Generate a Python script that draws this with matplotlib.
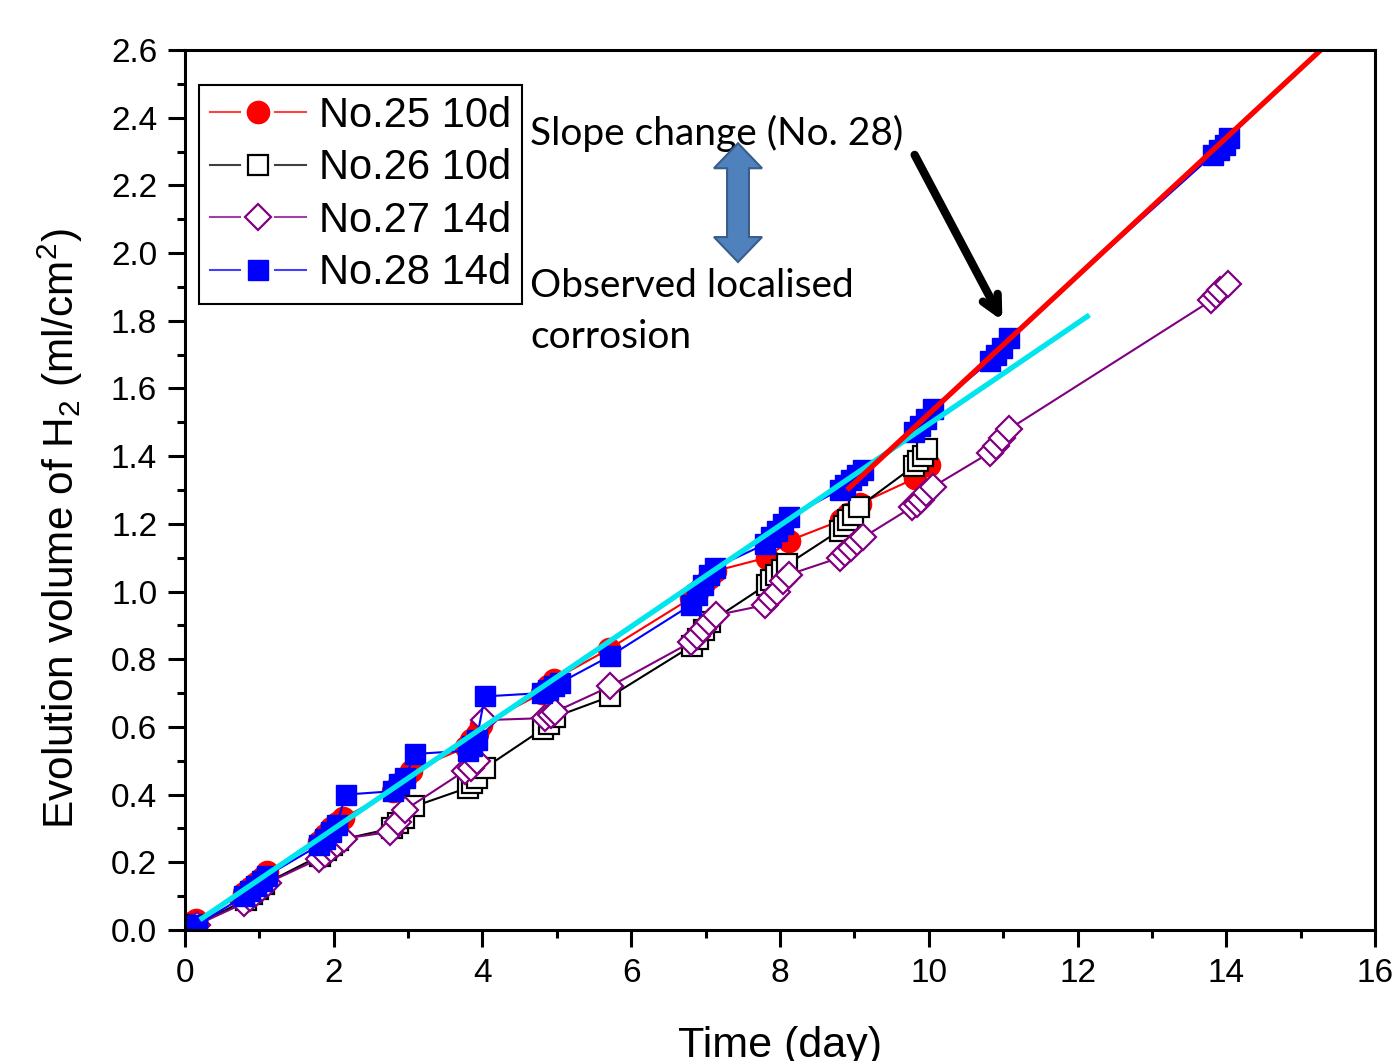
import matplotlib
matplotlib.use("Agg")
import matplotlib.pyplot as plt
from matplotlib.lines import Line2D
from matplotlib.legend_handler import HandlerBase
from matplotlib.patches import Polygon
from matplotlib.ticker import MultipleLocator

plt.rcParams["font.family"] = ["Liberation Sans", "DejaVu Sans"]
plt.rcParams["mathtext.fontset"] = "custom"
plt.rcParams["mathtext.rm"] = "Liberation Sans"

# --- data (time in days, volume in ml/cm2) ---
t25 = [0.08, 0.15,
       0.80, 0.88, 0.96, 1.04, 1.10,
       1.80, 1.88, 1.96, 2.04, 2.12,
       2.80, 2.88, 2.96, 3.04,
       3.78, 3.85, 3.92, 3.98,
       4.80, 4.88, 4.96,
       5.70,
       6.80, 6.88, 6.96, 7.04, 7.12,
       7.82, 8.12,
       8.82, 8.92, 9.08,
       9.82, 10.00]
v25 = [0.02, 0.03,
       0.11, 0.125, 0.14, 0.155, 0.17,
       0.26, 0.28, 0.30, 0.315, 0.33,
       0.41, 0.43, 0.45, 0.47,
       0.54, 0.56, 0.58, 0.605,
       0.70, 0.72, 0.74,
       0.83,
       0.98, 1.00, 1.02, 1.04, 1.06,
       1.10, 1.15,
       1.21, 1.23, 1.26,
       1.335, 1.375]

t26 = [0.10, 0.16,
       0.82, 0.90, 0.98, 1.06,
       1.82, 1.90, 1.98, 2.06,
       2.78, 2.86, 2.94, 3.08,
       3.80, 3.86, 3.93, 4.04,
       4.82, 4.90, 4.98,
       5.72,
       6.82, 6.90, 6.98, 7.06,
       7.82, 7.88, 7.94, 8.02, 8.10,
       8.80, 8.86, 8.92, 8.98, 9.06,
       9.80, 9.86, 9.92, 9.98]
v26 = [0.01, 0.015,
       0.09, 0.105, 0.12, 0.135,
       0.22, 0.235, 0.25, 0.265,
       0.30, 0.315, 0.33, 0.365,
       0.42, 0.435, 0.45, 0.48,
       0.595, 0.61, 0.63,
       0.69,
       0.84, 0.86, 0.885, 0.91,
       1.02, 1.035, 1.05, 1.065, 1.08,
       1.18, 1.195, 1.21, 1.225, 1.25,
       1.37, 1.385, 1.40, 1.42]

t27 = [0.10, 0.16,
       0.80, 0.88, 0.96, 1.04, 1.12,
       1.80, 1.88, 1.96, 2.04, 2.14,
       2.76, 2.86, 2.96,
       3.76, 3.84, 3.92, 4.02,
       4.84, 4.92, 4.98,
       5.72,
       6.80, 6.88, 6.96, 7.04, 7.14,
       7.80, 7.88, 7.96, 8.04, 8.12,
       8.80, 8.88, 8.96, 9.04, 9.12,
       9.78, 9.84, 9.90, 9.96, 10.06,
       10.82, 10.90, 10.98, 11.08,
       13.80, 13.86, 13.92, 14.02]
v27 = [0.01, 0.015,
       0.08, 0.095, 0.11, 0.125, 0.14,
       0.21, 0.225, 0.24, 0.255, 0.27,
       0.29, 0.32, 0.355,
       0.47, 0.48, 0.50, 0.62,
       0.626, 0.636, 0.645,
       0.72,
       0.85, 0.87, 0.89, 0.91, 0.93,
       0.96, 0.98, 1.00, 1.03, 1.05,
       1.10, 1.115, 1.13, 1.145, 1.16,
       1.25, 1.26, 1.27, 1.29, 1.31,
       1.41, 1.43, 1.455, 1.48,
       1.86, 1.875, 1.89, 1.91]

t28 = [0.10, 0.16,
       0.80, 0.88, 0.96, 1.04, 1.10,
       1.80, 1.88, 1.96, 2.04, 2.16,
       2.80, 2.88, 2.96, 3.09,
       3.80, 3.86, 3.92, 4.03,
       4.80, 4.88, 4.96, 5.04,
       5.72,
       6.80, 6.88, 6.96, 7.04, 7.12,
       7.80, 7.88, 7.96, 8.04, 8.12,
       8.80, 8.88, 8.96, 9.04, 9.12,
       9.80, 9.88, 9.96, 10.06,
       10.82, 10.90, 10.98, 11.08,
       13.82, 13.90, 13.98, 14.04]
v28 = [0.01, 0.015,
       0.10, 0.115, 0.13, 0.145, 0.16,
       0.25, 0.27, 0.29, 0.31, 0.40,
       0.41, 0.43, 0.45, 0.52,
       0.53, 0.545, 0.56, 0.69,
       0.70, 0.71, 0.72, 0.73,
       0.81,
       0.96, 0.99, 1.02, 1.05, 1.07,
       1.14, 1.16, 1.18, 1.20, 1.22,
       1.30, 1.315, 1.33, 1.345, 1.36,
       1.47, 1.49, 1.51, 1.54,
       1.68, 1.70, 1.72, 1.75,
       2.29, 2.305, 2.32, 2.34]

# fitted trend lines (two end points each)
fit_all_t = [0.2, 12.16]
fit_all_v = [0.03, 1.817]
fit_late_t = [8.9, 16.0]
fit_late_v = [1.30, 2.749]

labels = ["No.25 10d", "No.26 10d", "No.27 14d", "No.28 14d"]


class GapHandler(HandlerBase):
    """Origin-style legend entry: line, gap, symbol, gap, line."""

    def create_artists(self, legend, orig, xdescent, ydescent, width, height,
                       fontsize, trans):
        y = height / 2.0 - ydescent
        x0 = -xdescent
        gap = 0.36 * width
        half = (width - gap) / 2.0
        kw = dict(color=orig.get_color(), lw=orig.get_linewidth(), alpha=0.75)
        l1 = Line2D([x0, x0 + half], [y, y], **kw)
        l2 = Line2D([x0 + width - half, x0 + width], [y, y], **kw)
        mk = Line2D([x0 + width / 2.0], [y], ls="none",
                    marker=orig.get_marker(), ms=orig.get_markersize(),
                    mfc=orig.get_markerfacecolor(),
                    mec=orig.get_markeredgecolor(),
                    mew=orig.get_markeredgewidth())
        for a in (l1, l2, mk):
            a.set_transform(trans)
        return [l1, l2, mk]


fig = plt.figure(figsize=(13.94, 10.61), dpi=100)
ax = fig.add_axes([0.1327, 0.1235, 0.8537, 0.8294])

styles = [
    dict(marker="o", color="#ff0000", ms=16, mfc="#ff0000", mew=1.0),
    dict(marker="s", color="#000000", ms=14, mfc="white", mew=1.6),
    dict(marker="D", color="#800080", ms=13, mfc="white", mew=1.6),
    dict(marker="s", color="#0000ff", ms=14, mfc="#0000ff", mew=1.0),
]
series = [(t25, v25), (t26, v26), (t27, v27), (t28, v28)]

handles = []
for (t, v), st, lab in zip(series, styles, labels):
    ln, = ax.plot(t, v, "-", marker=st["marker"], color=st["color"], lw=1.5,
                  ms=st["ms"], mfc=st["mfc"], mec=st["color"], mew=st["mew"])
    handles.append(ln)

ax.plot(fit_all_t, fit_all_v, color="#00e5ee", lw=3.8, solid_capstyle="butt")
ax.plot(fit_late_t, fit_late_v, color="#ff0000", lw=3.8, solid_capstyle="butt")

ax.set_xlim(0, 16)
ax.set_ylim(0, 2.6)
ax.xaxis.set_major_locator(MultipleLocator(2))
ax.xaxis.set_minor_locator(MultipleLocator(1))
ax.yaxis.set_major_locator(MultipleLocator(0.2))
ax.yaxis.set_minor_locator(MultipleLocator(0.1))
ax.yaxis.set_major_formatter(plt.FuncFormatter(lambda v, p: f"{v:.1f}"))
ax.tick_params(which="major", direction="out", length=12, width=2.2,
               labelsize=24, pad=8, top=False, right=False)
ax.tick_params(which="minor", direction="out", length=6, width=2.2,
               top=False, right=False)
for s in ax.spines.values():
    s.set_linewidth(2.2)

ax.set_xlabel("Time (day)", fontsize=31, labelpad=27)
ax.set_ylabel(r"Evolution volume of H$_\mathregular{2}$ (ml/cm$^\mathregular{2}$)",
              fontsize=30.5)
ax.yaxis.set_label_coords(-0.084, 0.456)

leg = ax.legend(handles, labels, loc="upper left",
                bbox_to_anchor=(0.012, 0.960), borderaxespad=0,
                fontsize=30, labelspacing=0.3, handlelength=2.3,
                handletextpad=0.33, borderpad=0.25,
                handler_map={Line2D: GapHandler()},
                fancybox=False, edgecolor="black", framealpha=1)
leg.get_frame().set_linewidth(1.5)

# annotations
note_font = ["Lato", "DejaVu Sans"]
ax.text(4.637, 2.319, "Slope change (No. 28)", fontsize=28,
        family=note_font, va="baseline", ha="left")
ax.text(4.637, 1.870, "Observed localised", fontsize=28,
        family=note_font, va="baseline", ha="left")
ax.text(4.637, 1.719, "corrosion", fontsize=28,
        family=note_font, va="baseline", ha="left")

# blue double-headed block arrow (axes fraction)
cx, ytop, ybot = 0.4647, 0.894, 0.759
sw, hw, hl = 0.0092, 0.0202, 0.0284
arrow_pts = [(cx, ytop), (cx + hw, ytop - hl), (cx + sw, ytop - hl),
             (cx + sw, ybot + hl), (cx + hw, ybot + hl), (cx, ybot),
             (cx - hw, ybot + hl), (cx - sw, ybot + hl), (cx - sw, ytop - hl),
             (cx - hw, ytop - hl)]
ax.add_patch(Polygon(arrow_pts, closed=True, transform=ax.transAxes,
                     facecolor="#4f81bd", edgecolor="#385d8a", lw=1.5,
                     zorder=5))

# black arrow pointing at the slope change
ax.annotate("", xy=(10.99, 1.80), xytext=(9.81, 2.29),
            arrowprops=dict(arrowstyle="->,head_length=1.2,head_width=0.6",
                            color="black", lw=6, capstyle="round",
                            joinstyle="round", shrinkA=0, shrinkB=0))

fig.savefig("out.png", dpi=100)
